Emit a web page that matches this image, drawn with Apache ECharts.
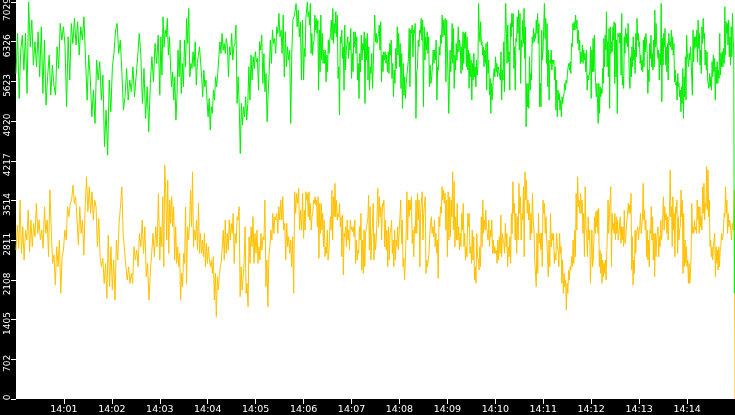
<!DOCTYPE html>
<html>
<head>
<meta charset="utf-8">
<script src="https://cdn.jsdelivr.net/npm/echarts@6/dist/echarts.min.js"></script>
<style>
  html, body { margin: 0; padding: 0; background: #fff; }
  #chart { width: 735px; height: 415px; }
</style>
</head>
<body>
<div id="chart"></div>
<script>
// x axis is seconds after 14:00:00, 15 minutes in all
let xLabels = ['14:01', '14:02', '14:03', '14:04', '14:05', '14:06', '14:07',
  '14:08', '14:09', '14:10', '14:11', '14:12', '14:13', '14:14'];
let yLabels = ['0', '702', '1405', '2108', '2811', '3514', '4217', '4920', '5623', '6326', '7029'];

// readings, three minutes per block
let green1 = [5764, 6472, 5321, 6177, 6442, 5823, 6472, 5410, 7029, 6236, 6708, 5912, 6324, 5882, 6502, 5705,
  6590, 5410, 6354, 5204, 5705, 6088, 5380, 5912, 5557, 5380, 6236, 5852, 6649, 6354, 6590, 6266, 5174, 6413,
  5646, 6649, 6295, 6738, 6266, 6679, 6088, 6590, 6354, 6767, 6030, 5292, 6088, 5676, 4997, 5469, 4879, 6000,
  5646, 5971, 5292, 5735, 4466, 5115, 4318, 5646, 5086, 5882, 6118, 6531, 6649, 6118, 6354, 5794, 5115, 5351,
  5852, 5292, 5646, 5440, 5882, 5351, 5705, 6059, 6472, 6088, 5233, 5852, 4968, 5528, 4732, 5587, 6059, 5617,
  6295, 5941, 6442];
let green2 = [5380, 6413, 5735, 6767, 6236, 6531, 6413, 6738, 6088, 6413, 5882, 5528, 5794, 5292, 5705, 4938,
  5351, 6177, 5705, 6354, 5410, 5941, 5528, 6354, 5882, 6738, 6295, 6915, 5705, 5941, 5852, 6148, 5882, 6324,
  5557, 5941, 6088, 6236, 5971, 5705, 5351, 5823, 5528, 5646, 5292, 4997, 5321, 4761, 5174, 5056, 5469, 5292,
  5705, 5528, 5764, 5794, 6324, 6118, 6472, 6177, 6295, 6118, 6384, 6236, 5705, 6236, 6088, 6472, 6000, 6236,
  6295, 6620, 5233, 5705, 5204, 4348, 5233, 4850, 5174, 4997, 5351, 4938, 5233, 5882, 5292, 6088, 5646, 6059,
  5852, 6148, 5971, 6030, 5469, 6324, 6177, 6442, 5587, 6118, 5440, 5764, 4908, 5410, 5823, 6354, 5941, 6531,
  6295, 6384, 6118, 6590, 6472, 6826, 6413, 6531, 6118, 6797, 5705, 6502, 5882, 6236, 6000, 6177, 4879, 6118,
  6708, 6767, 6856, 7000, 6590, 6885, 6413, 6679, 5646, 6708];
let green3 = [5646, 6207, 6059, 6738, 6738, 7029, 6767, 6856, 6620, 7003, 6118, 6472, 6088, 6295, 6354, 6797,
  6531, 6738, 6472, 6708, 5469, 6531, 5794, 6797, 6000, 6472, 5941, 6177, 5941, 6177, 5617, 6088, 5794, 6354,
  6118, 6354, 6472, 6708, 6354, 6915, 6295, 6649, 6472, 6856, 6413, 6797, 5676, 5882, 5027, 6413, 6295, 6531,
  6030, 6236, 5469, 6620, 5823, 6177, 6177, 6413, 6030, 6324, 6177, 6560, 5676, 6118, 5794, 6502, 6236, 6502,
  6118, 6413, 5646, 5941, 5321, 6118, 5794, 6442, 6000, 6295, 6177, 6502, 5233, 6384, 6000, 6472, 5646, 6236,
  5469, 5882, 5764, 6118, 5499, 5912, 6354, 6797, 6324, 6472, 6295, 6384, 6472, 6620, 6177, 6679, 5617, 6088,
  5794, 6148, 6000, 6148, 5941, 6088, 5794, 6148, 5764, 6295, 6088, 6354, 5676, 5941, 5351, 5823, 5587, 6207,
  5852, 6590, 6088, 6472, 5882, 6295, 5499, 6118, 5145, 5941, 5380, 5705, 5321, 5587, 5587, 5882, 6030, 6560,
  5528, 6531, 6472, 6620, 6059, 6531, 6472, 6649, 4968, 5794, 5852, 6354, 6236, 6531, 6472, 6738, 6354, 6708,
  5174, 6590, 6000, 6413, 6177, 6502, 6118, 6413, 5528, 5912, 5587, 5705, 5882, 6177, 5941, 6177, 6000, 6354,
  5292, 5882, 5823, 6236, 6088, 6442, 6295, 6797, 6413, 6708, 6442, 6738, 5617, 6708];
let green4 = [6738, 5646, 5056, 5646, 6177, 5794, 6118, 6649, 5941, 6560, 5499, 6088, 5823, 6295, 6000, 6207,
  6590, 6148, 6354, 6236, 5764, 6236, 5823, 6502, 5941, 6472, 6207, 6502, 5882, 6413, 5823, 6177, 5499, 6118,
  5705, 6000, 5292, 5941, 5646, 6118, 5705, 5882, 5528, 6000, 5735, 5882, 7003, 6502, 6324, 6679, 6266, 6324,
  6088, 6236, 5882, 6177, 5941, 6295, 5469, 6324, 5764, 6000, 5380, 5676, 5056, 5587, 5292, 5528, 5735, 5852,
  5705, 6059, 5794, 5941, 5705, 5882, 5794, 5823, 5646, 6148, 5292, 5823, 5646, 6324, 5440, 6472, 7003, 6472,
  5941, 6620, 5971, 6148, 5469, 6649, 6413, 6826, 6590, 6826, 5852, 6236, 5469, 6384, 6324, 6767, 6472, 6885,
  6177, 6826, 5587, 6354, 6236, 6708, 6295, 6915, 6030, 6590, 4820, 5587, 5174, 5587, 5145, 6059, 5469, 5764,
  5646, 6413, 6295, 6560, 6324, 6472, 6384, 6708, 6472, 6826, 6295, 6649, 5174, 5587, 5174, 6531, 6000, 6177,
  6590, 7003, 6384, 6738, 5941, 6649, 5528, 6177, 5292, 6000, 5941, 6177, 5823, 6000, 5941, 6000, 5646, 5882,
  5115, 5646, 4997, 5469, 5292, 5410, 5115, 5292, 4997, 5351, 5233, 5351, 5410, 5587, 5469, 5646, 5587, 5764,
  5882, 5941, 5823, 5971, 5764, 6295, 6236, 6649, 6531, 6679, 6531, 6797, 6560, 6708, 6295, 6531, 6177, 6354,
  5941, 6148, 5971, 6266, 5941, 6177, 6000, 6118, 5794, 6177, 5469, 5735, 5646, 5735, 5794, 6236];
let green5 = [5321, 6177, 5794, 6384, 5794, 6442, 5852, 5882, 5351, 5587, 5233, 4879, 5587, 5056, 5528, 5351,
  5499, 5410, 5852, 5587, 6384, 5882, 6442, 6177, 6856, 5882, 6324, 5705, 6560, 5145, 6590, 6118, 6324, 6148,
  6590, 6354, 6679, 5587, 6649, 5705, 6354, 5056, 6472, 6413, 6472, 6295, 6472, 5735, 6826, 5557, 5705, 5499,
  6413, 6118, 6560, 6295, 6472, 6236, 6649, 6148, 5646, 5499, 6059, 5705, 6236, 5882, 6413, 6000, 6177, 5764,
  6472, 6059, 6738, 6354, 6472, 6236, 6324, 5941, 6088, 5823, 6000, 5794, 6354, 5882, 6413, 6148, 6472, 6295,
  6118, 5410, 5823, 5617, 6295, 6030, 6442, 5882, 6118, 5823, 6354, 5882, 6885, 6236, 6649, 6266, 6177, 6030,
  6177, 5646, 6118, 5912, 7003, 5263, 6384, 5912, 6472, 6236, 6560, 5912, 6236, 5794, 6295, 5646, 6472, 6266,
  6324, 6236, 6531, 6177, 6413, 6088, 6295, 5617, 5823, 5557, 5617, 5292, 5764, 5528, 5587, 5351, 5469, 5086,
  5528, 5233, 5852, 4968, 5705, 5351, 6059, 5292, 6442, 6118, 6148, 5882, 6118, 6000, 6236, 6000, 6030, 5380,
  6531, 5971, 6413, 6207, 6413, 6236, 6531, 5971, 6708, 6207, 6472, 5912, 6177, 5764, 6590, 6295, 6738, 6384,
  6472, 5912, 6177, 5823, 6148, 5646, 5676, 5499, 5764, 5528, 5705, 5469, 5971, 5705, 6088, 5794, 6030, 5292,
  5882, 5587, 5971, 5587, 5823, 5676, 6472, 5735, 6118, 5882, 6148, 5882, 6207, 5941, 6944, 6088, 6679, 6472,
  6649, 6266, 6708, 6059, 6413, 5912, 6590, 6059, 6826, 6413, 6177, 1870, 3375];

let orange1 = [2637, 3080, 2667, 3522, 2578, 3050, 2460, 2991, 2814, 3345, 2607, 3168, 2696, 3109, 2873, 3463,
  2932, 3168, 2814, 2991, 2667, 3404, 2932, 3168, 2519, 3699, 2991, 2401, 2549, 2018, 2696, 2342, 2814, 1870,
  2519, 2637, 2991, 2814, 3404, 3227, 3463, 3522, 3788, 3463, 3581, 3168, 2726, 3404, 2932, 3168, 2549, 3404,
  3935, 3316, 3758, 3286, 3670, 3168, 3522, 3404, 2696, 3198, 2519, 2342, 2490, 2047, 2401, 1782, 2903, 1988,
  2696, 1929, 2460, 1752, 2814, 2460, 3109, 3404, 3758, 2932, 2637, 2342, 2106, 2342, 2047, 2224, 2047, 2696,
  2460, 2637, 2342, 2932, 2696, 3168, 2578, 3050, 2165, 2401, 1752, 2224, 2578, 2932, 2519, 3050, 2696, 3640];
let orange2 = [2460, 3050, 2696, 3581, 2342, 4142, 3640, 2814, 3876, 2578, 3522, 3109, 3581, 3050, 3404, 2460,
  3050, 2401, 2696, 2342, 2578, 1752, 2224, 1988, 2578, 2401, 3404, 2047, 3050, 2814, 3109, 3699, 3050, 4024,
  2696, 2991, 2814, 3168, 2637, 3463, 2578, 2932, 2578, 2814, 2519, 2932, 2342, 2755, 2401, 2696, 2460, 2342,
  2460, 2224, 2519, 1752, 2224, 1457, 2165, 1929, 2195, 2342, 2430, 2460, 2991, 2460, 3168, 2578, 2932, 2637,
  3168, 2814, 3109, 2932, 3286, 2401, 2932, 2755, 3227, 3168, 3404, 1811, 2342, 1929, 2165, 2401, 3050, 1870,
  2047, 1634, 2873, 2401, 3050, 2696, 3227, 2401, 2932, 2578, 2991, 2401, 2696, 2460, 2932, 2637, 2873, 2814,
  3522, 1988, 2460, 1634, 2519, 2696, 2991, 2814, 3286, 2932, 3227, 3168, 3286, 2932, 3404, 3168, 3522, 3168,
  3581, 2991, 3109, 2460, 3109, 2696, 2873, 2578, 2814, 2342, 2873, 1870, 3670, 3286, 3640, 3463, 3729, 2991,
  3345, 2991, 3640];
let orange3 = [2844, 3345, 2991, 3670, 3522, 3640, 3227, 3670, 3168, 3463, 2991, 3227, 3286, 3522, 3463, 3581,
  3434, 3522, 3050, 3581, 2490, 3463, 2932, 3463, 2991, 3286, 2696, 3168, 2519, 2696, 2578, 2991, 2460, 2578,
  2932, 3227, 2991, 3699, 2814, 3581, 3227, 3817, 3227, 3522, 3168, 3286, 3227, 3463, 3050, 3227, 2519, 3257,
  2195, 2932, 2873, 3050, 2696, 3168, 2814, 2991, 2637, 3168, 2991, 3050, 2962, 3050, 2873, 3168, 2401, 2814,
  2460, 2637, 2578, 3050, 2814, 3286, 2283, 2814, 2224, 2991, 2342, 2932, 2932, 3109, 3198, 3611, 2637, 3404,
  2460, 2814, 3109, 3463, 2460, 2932, 2637, 2814, 3227, 3729, 3050, 3581, 3227, 3404, 2814, 3463, 3404, 3522,
  2696, 3168, 2637, 2991, 2342, 3050, 2460, 2932, 2991, 3168, 2578, 2814, 2342, 2991, 2460, 2814, 2696, 3050,
  2637, 2991, 3227, 3522, 2755, 3168, 2342, 2490, 2106, 2460, 2932, 3670, 2814, 3522, 3227, 3522, 3345, 3581,
  2755, 2991, 2519, 3050, 2932, 3522, 2932, 3640, 3168, 3522, 2342, 3286, 3286, 3670, 2814, 3286, 3286, 3581,
  2224, 2460, 2342, 2460, 2578, 2932, 2932, 3227, 2932, 3050, 2873, 3168, 2696, 2932, 2578, 2814, 2136, 3227,
  3050, 3404, 3286, 3758, 3522, 3699, 3463, 3640, 2991, 3522];
let orange4 = [2519, 3670, 2814, 3581, 2873, 3522, 3227, 4024, 2991, 3847, 2696, 3227, 2814, 3463, 2814, 3050,
  2637, 2932, 2696, 3286, 2991, 3463, 2696, 2932, 2460, 2696, 2519, 3286, 3050, 3286, 2578, 2696, 2401, 2991,
  2460, 2873, 2106, 2342, 2047, 2932, 2519, 2460, 2283, 2696, 2342, 3227, 2696, 3522, 2932, 3168, 2991, 3345,
  3050, 3050, 2814, 3168, 2696, 2991, 2873, 3168, 2578, 2814, 2578, 2696, 2578, 2637, 2401, 2814, 2460, 2873,
  2578, 3257, 2519, 2932, 2814, 2755, 2578, 3109, 2696, 2932, 2342, 2696, 2519, 2873, 2401, 3286, 2932, 3847,
  3286, 3463, 2814, 3286, 2578, 3227, 2814, 3817, 3286, 3581, 2814, 3286, 3168, 3758, 2519, 4024, 3522, 3876,
  3286, 3522, 3168, 3463, 2814, 3286, 2932, 3640, 3168, 2991, 2460, 2460, 1988, 2932, 2224, 3286, 2755, 2932,
  2637, 2932, 2342, 3522, 3286, 3463, 2932, 3227, 2814, 2519, 2165, 2814, 2342, 3286, 2696, 2932, 2814, 2932,
  2401, 2578, 2460, 2932, 2696, 2637, 2342, 2932, 2578, 2696, 2047, 2460, 1870, 2224, 1988, 2106, 1575, 2047,
  1870, 2283, 2106, 2342, 2283, 2519, 2342, 2814, 2401, 2991, 2519, 3640, 2991, 3935, 3404, 3522, 3286, 3640,
  3286, 3522, 2932, 3286, 2519, 3758, 3050, 2932, 2519, 3227, 2814, 2991, 2047];
let orange5 = [2047, 2991, 2342, 2460, 2460, 3227, 2932, 3316, 3050, 3345, 2932, 3375, 2342, 2637, 2224, 2578,
  2047, 2460, 2165, 2401, 2224, 2460, 2106, 2578, 2932, 3522, 2932, 3286, 3286, 3758, 2342, 3286, 2991, 3109,
  2932, 3286, 2814, 3227, 2932, 3168, 2814, 2932, 2932, 3227, 2755, 3050, 2814, 3050, 2696, 3345, 2755, 2814,
  2991, 3168, 3168, 3463, 3286, 3434, 3286, 3640, 2283, 2873, 2018, 2460, 2224, 2991, 2578, 2932, 2932, 3050,
  2814, 2991, 3050, 3286, 2932, 3050, 3227, 3817, 3168, 3345, 2991, 3168, 2519, 2991, 2460, 2814, 2342, 2991,
  2932, 3404, 2814, 3227, 2460, 2932, 2165, 2932, 2519, 2814, 2814, 3050, 2519, 2873, 2696, 3168, 2814, 2932,
  2932, 3581, 2991, 3404, 3168, 3286, 2932, 3227, 2814, 3168, 3286, 4053, 3227, 3404, 2696, 3581, 2991, 3286,
  2519, 3404, 3286, 3522, 2578, 3227, 2814, 2991, 3050, 3699, 3227, 3522, 2224, 3286, 2342, 2814, 2401, 2696,
  2342, 2460, 2047, 2401, 2047, 2224, 2519, 3463, 2932, 3050, 2932, 3168, 2991, 3050, 2932, 3522, 3168, 3404,
  2932, 3404, 3050, 3227, 2991, 3758, 3286, 3817, 3168, 3463, 3404, 4112, 3345, 4053, 3227, 3522, 2696, 2814,
  2519, 2696, 2460, 2696, 2696, 2932, 2165, 2696, 2401, 2637, 2283, 2696, 2342, 2637, 2696, 2932, 2814, 2873,
  2991, 3286, 3227, 3758, 3286, 3522, 2932, 3286, 3050, 3168, 3109, 2932, 2814, 3109, 2991, 3168, 3699, 0];

// each block covers 180 s, the last one ends on 900 s
function block (vals, k, isLast) {
  let step = 180 / (isLast ? vals.length - 1 : vals.length);
  return vals.map(function (v, i) {
    return [k * 180 + i * step, v];
  });
}

function joinBlocks (blocks) {
  let out = [];
  blocks.forEach(function (b, k) {
    out = out.concat(block(b, k, k === blocks.length - 1));
  });
  return out;
}

let greenData = joinBlocks([green1, green2, green3, green4, green5]);
let orangeData = joinBlocks([orange1, orange2, orange3, orange4, orange5]);
let xTicks = xLabels.map(function (l, i) { return (i + 1) * 60; });

let labelFont = {color: '#fff', fontFamily: 'DejaVu Sans', fontSize: 9};

let myChart = echarts.init(document.getElementById('chart'));

let option = {
  animation: false,
  backgroundColor: '#fff',
  grid: {
    left: 16,
    right: 0,
    top: 2,
    bottom: 16,
    outerBoundsMode: 'none'
  },
  graphic: [{
    type: 'rect',
    silent: true,
    z: 1,
    shape: {x: 0, y: 0, width: 16, height: 415},
    style: {fill: '#000'}
  }, {
    type: 'rect',
    silent: true,
    z: 1,
    shape: {x: 0, y: 399, width: 735, height: 16},
    style: {fill: '#000'}
  }],
  xAxis: {
    type: 'value',
    min: 0,
    max: 900,
    z: 10,
    axisLine: {show: false},
    splitLine: {show: false},
    axisTick: {
      customValues: xTicks,
      length: 5,
      lineStyle: {color: '#fff'}
    },
    axisLabel: {
      customValues: xTicks,
      color: '#fff',
      fontFamily: 'DejaVu Sans',
      fontSize: 9.5,
      margin: 6,
      formatter: function (v) {
        return xLabels[Math.round(v / 60) - 1];
      }
    }
  },
  yAxis: {
    type: 'value',
    min: 0,
    max: 7029,
    interval: 702.9,
    z: 10,
    axisLine: {show: false},
    splitLine: {show: false},
    axisTick: {
      show: true,
      length: 5,
      lineStyle: {color: '#fff'}
    },
    axisLabel: {
      rotate: 90,
      align: 'center',
      verticalAlign: 'bottom',
      margin: 4,
      color: '#fff',
      fontFamily: 'DejaVu Sans',
      fontSize: 9,
      formatter: function (v, i) {
        let t = yLabels[i] !== undefined ? yLabels[i] : String(Math.floor(v));
        let key = i === 0 ? 'z' : (i === yLabels.length - 1 ? 't' : 'n');
        return '{' + key + '|' + t + '}';
      },
      rich: {
        n: Object.assign({padding: [0, 8, 0, 0]}, labelFont),
        t: Object.assign({padding: [0, 15, 0, 0]}, labelFont),
        z: Object.assign({padding: [0, 0, 0, 3]}, labelFont)
      }
    }
  },
  series: [{
    type: 'line',
    data: orangeData,
    showSymbol: false,
    lineStyle: {color: '#ffc000', width: 1}
  }, {
    type: 'line',
    data: greenData,
    showSymbol: false,
    lineStyle: {color: '#00f000', width: 1}
  }]
};

myChart.setOption(option);
</script>
</body>
</html>
